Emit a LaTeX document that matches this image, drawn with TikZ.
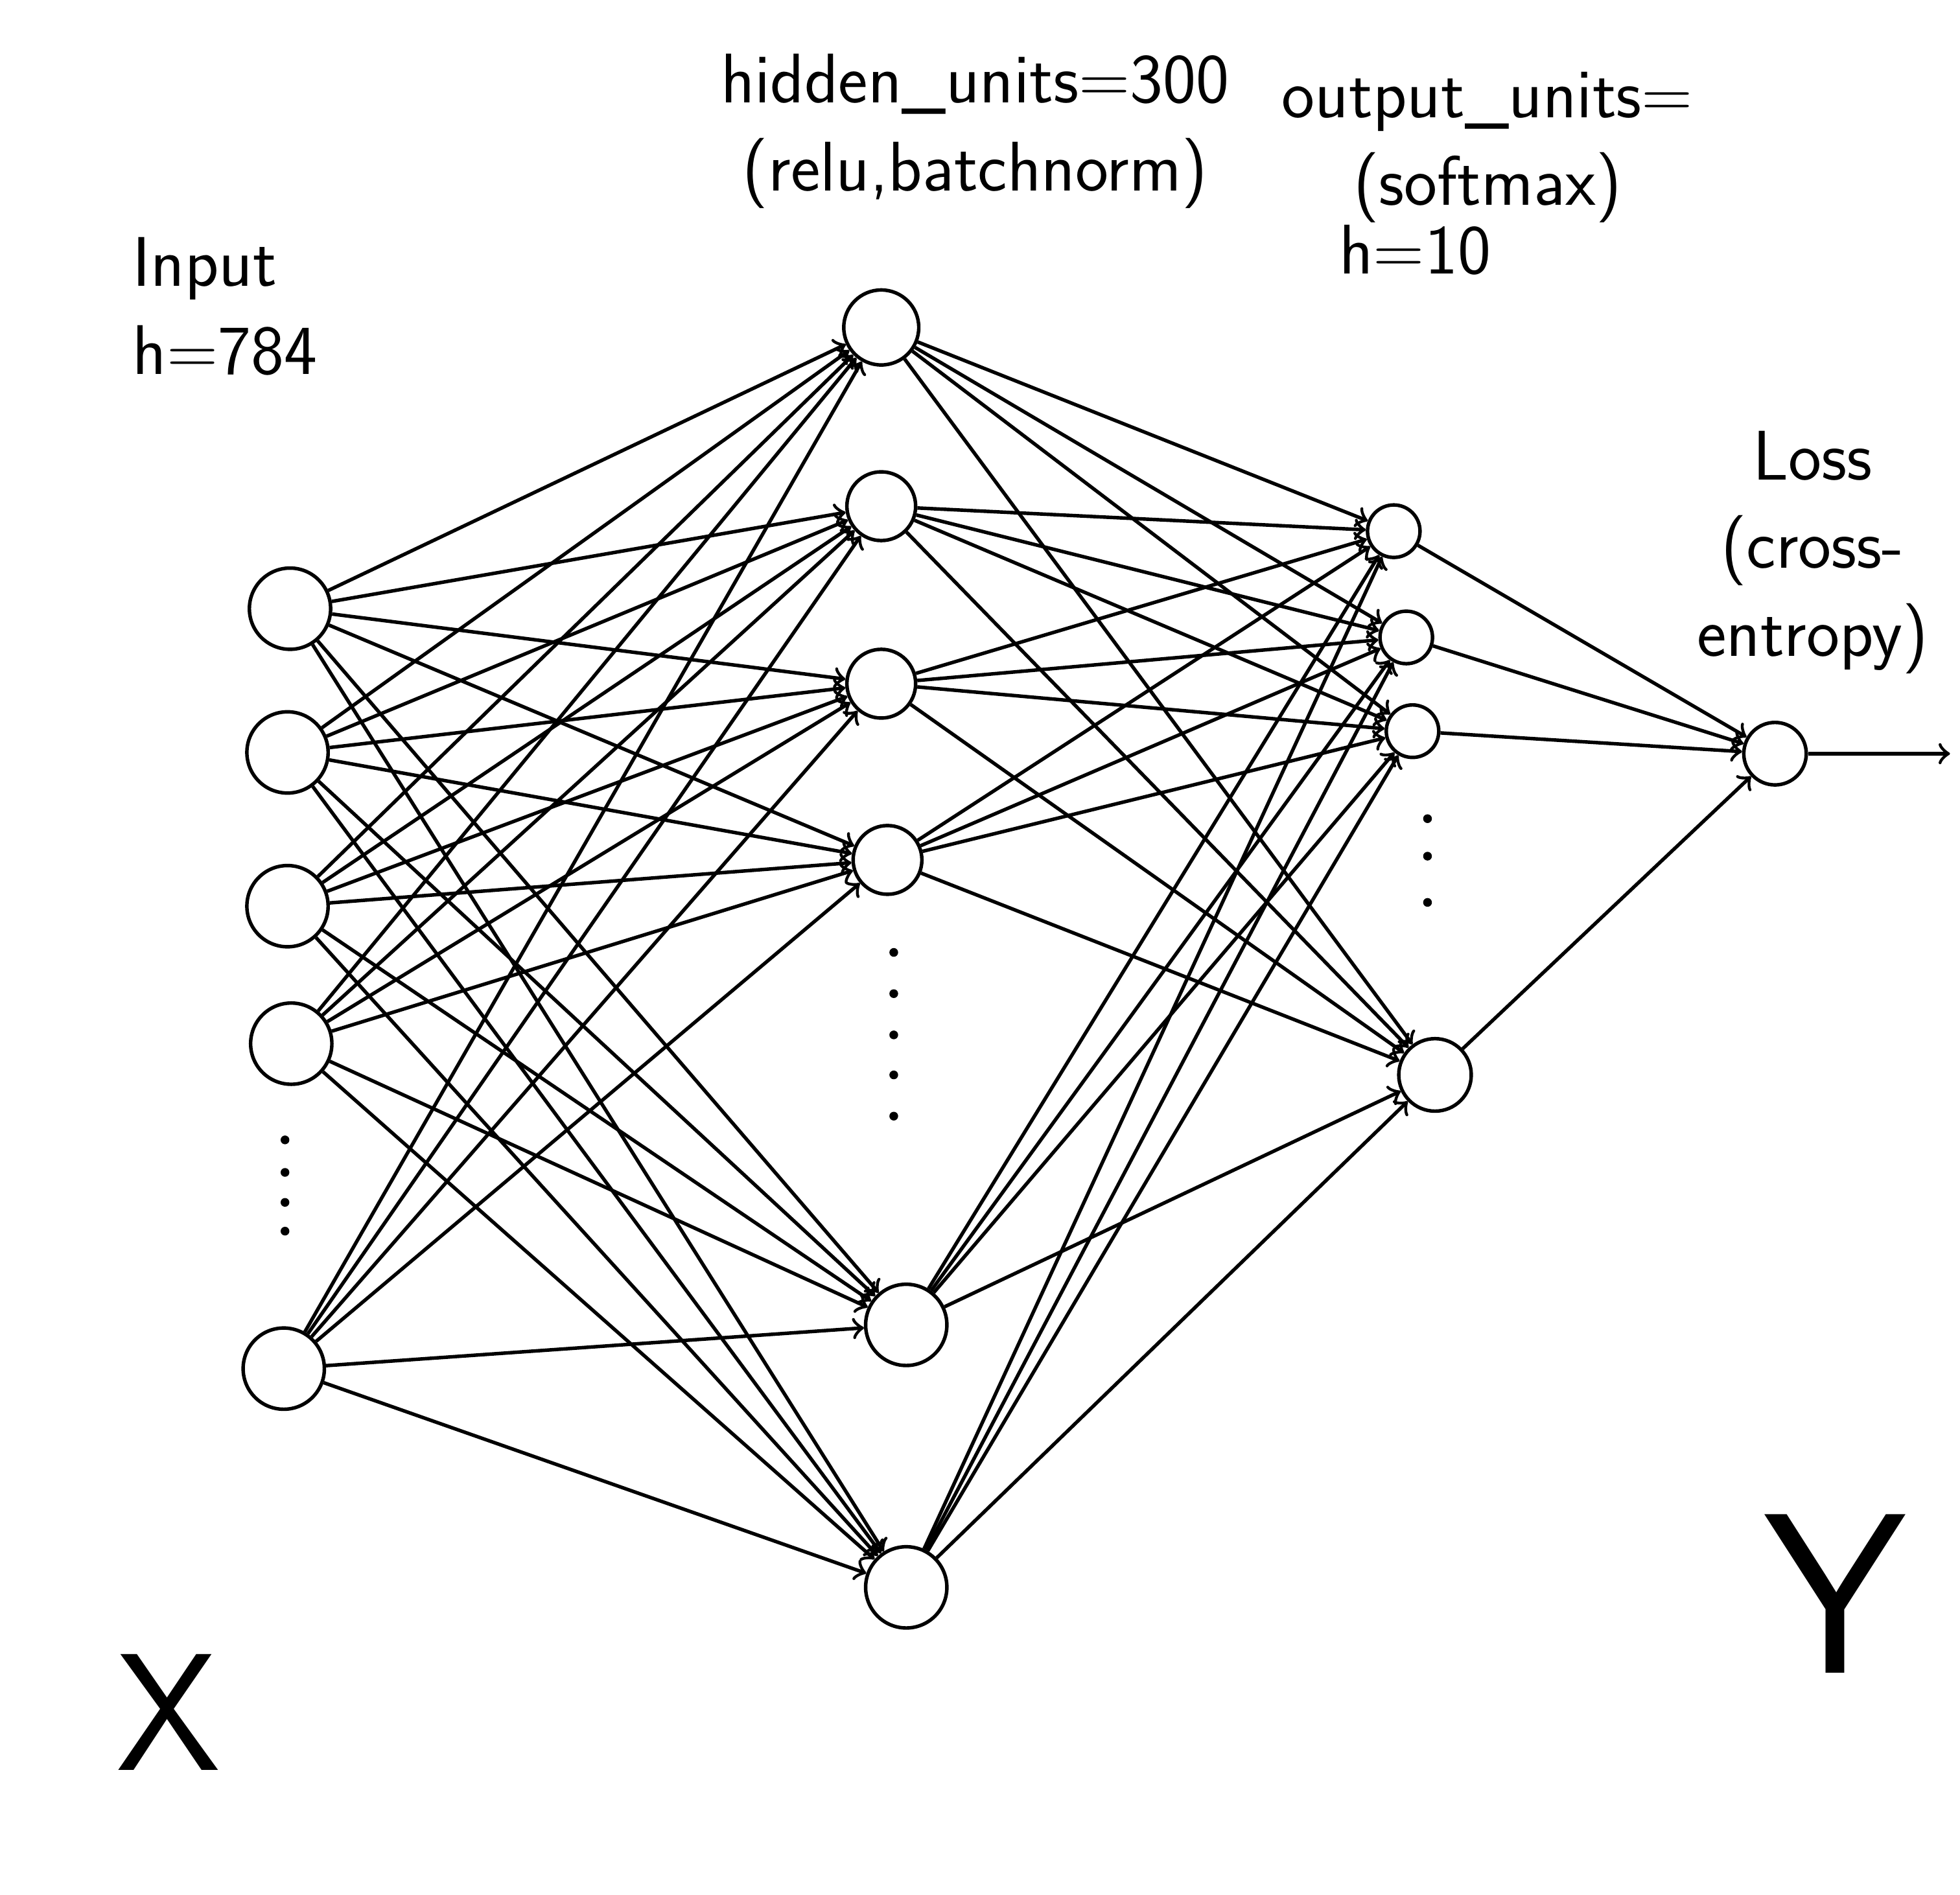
\documentclass[tikz,border=0pt]{standalone}
\usepackage{amsmath}
\usepackage{tikz}

\tikzset{lbl/.style={font=\sffamily\fontsize{16}{20}\selectfont,align=center}}

\begin{document}
\begin{tikzpicture}
	\useasboundingbox (0,0) rectangle (15.68,-15.16);
	\begin{scope}[every node/.style={circle,thick,draw,inner sep=0pt,minimum size=0.65cm}]
	% input layer
	\node (I1) at (2.32,-4.87) {};
	\node (I2) at (2.30,-6.02) {};
	\node (I3) at (2.30,-7.25) {};
	\node (I4) at (2.33,-8.35) {};
	\node (I5) at (2.27,-10.95) {};
	% hidden layer
	\node[minimum size=0.6cm] (H1) at (7.05,-2.62) {};
	\node[minimum size=0.55cm] (H2) at (7.05,-4.05) {};
	\node[minimum size=0.55cm] (H3) at (7.05,-5.47) {};
	\node[minimum size=0.55cm] (H4) at (7.10,-6.88) {};
	\node (H5) at (7.25,-10.60) {};
	\node (H6) at (7.25,-12.70) {};
	% output layer
	\node[minimum size=0.42cm] (O1) at (11.15,-4.25) {};
	\node[minimum size=0.42cm] (O2) at (11.25,-5.10) {};
	\node[minimum size=0.42cm] (O3) at (11.30,-5.85) {};
	\node[minimum size=0.58cm] (O4) at (11.48,-8.60) {};
	% loss
	\node[minimum size=0.5cm] (L) at (14.20,-6.03) {};
	\end{scope}
	\coordinate (out) at (15.60,-6.03);

	\foreach \i in {1,...,5}
		\foreach \j in {1,...,6}
			\draw [thick,->] (I\i) edge (H\j);
	\foreach \j in {1,...,6}
		\foreach \k in {1,...,4}
			\draw [thick,->] (H\j) edge (O\k);
	\foreach \k in {1,...,4}
		\draw [thick,->] (O\k) edge (L);
	\draw [thick,->] (L) -- (out);

	% dots
	\foreach \y in {-9.12,-9.38,-9.62,-9.85}
		\fill (2.28,\y) circle (0.035);
	\foreach \y in {-7.62,-7.95,-8.28,-8.6,-8.93}
		\fill (7.15,\y) circle (0.035);
	\foreach \y in {-6.55,-6.85,-7.22}
		\fill (11.42,\y) circle (0.035);

	% labels
	\node[lbl,align=left] (inlbl) at (1.80,-2.45) {Input\\h=784};
	\node[lbl] (hidlbl) at (7.80,-1.05) {hidden\_units=300\\(relu,batchnorm)};
	\node[lbl] (outlbl) at (11.90,-1.18) {output\_units=\\(softmax)};
	\node[lbl] (outh) at (11.32,-2.00) {h=10};
	\node[lbl] (losslbl) at (14.50,-4.42) {Loss\\(cross-\\entropy)};
	\node[font=\sffamily\fontsize{38}{44}\selectfont] (xlbl) at (1.35,-13.70) {X};
	\node[font=\sffamily\fontsize{52}{60}\selectfont] (ylbl) at (14.68,-12.75) {Y};
\end{tikzpicture}
\end{document}
